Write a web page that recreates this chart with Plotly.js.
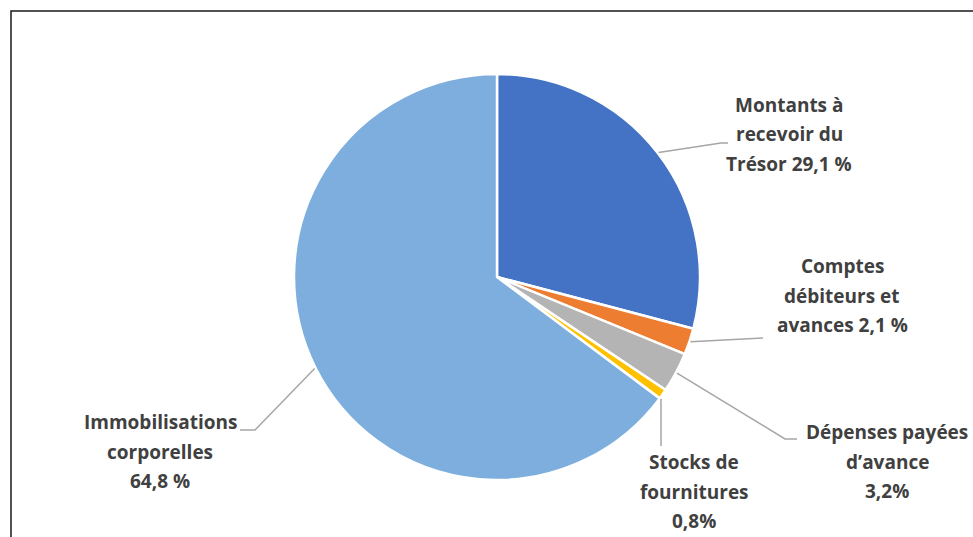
<!DOCTYPE html>
<html>
<head>
<meta charset="utf-8">
<script src="https://cdn.plot.ly/plotly-3.0.1.min.js"></script>
<style>html,body{margin:0;padding:0;background:#fff;}#chart{width:973px;height:537px;}</style>
</head>
<body>
<div id="chart"></div>
<script>
// ---- data ----
const categories = ["Montants à recevoir du Trésor", "Comptes débiteurs et avances", "Dépenses payées d’avance", "Stocks de fournitures", "Immobilisations corporelles"];
const values = [29.1, 2.1, 3.2, 0.8, 64.8];
const labelLines = [
  ["Montants à", "recevoir du", "Trésor 29,1 %"],
  ["Comptes", "débiteurs et", "avances 2,1 %"],
  ["Dépenses payées", "d’avance", "3,2%"],
  ["Stocks de", "fournitures", "0,8%"],
  ["Immobilisations", "corporelles", "64,8 %"]
];
const colors = ["#4472C4", "#ED7D31", "#B4B4B4", "#FFC000", "#7DAEDD"];

// ---- layout constants ----
const W = 973, H = 537;
const CX = 497, CY = 277, R = 203;
const labelPos = [[789, 105], [842, 266], [887, 432], [694, 462], [160, 422]];
const lineGap = 29.5;
const elbows = [
  [[721, 143], [728, 143]],
  [[763, 338]],
  [[785, 439], [797, 439]],
  [[661, 446]],
  [[255, 430], [240, 430]]
];

const px = x => x / W;
const py = y => 1 - y / H;

const total = values.reduce((a, b) => a + b, 0);
let cum = 0;
const shapes = [];
values.forEach((v, i) => {
  const mid = (cum + v / 2) / total * 2 * Math.PI;
  cum += v;
  const sx = CX + (R + 1) * Math.sin(mid);
  const sy = CY - (R + 1) * Math.cos(mid);
  let pts = [[sx, sy]].concat(elbows[i]);
  if (i === 3) pts = [[elbows[i][0][0], sy + 4], elbows[i][0]];
  let path = pts.map((p, k) => (k ? "L" : "M") + px(p[0]) + "," + py(p[1])).join(" ");
  shapes.push({type: "path", xref: "paper", yref: "paper", path: path,
    line: {color: "#A6A6A6", width: 1.5}});
});
shapes.push({type: "rect", xref: "paper", yref: "paper",
  x0: px(11), y0: -0.2, x1: 1.2, y1: py(11),
  line: {color: "#1a1a1a", width: 1.5}});

const annotations = [];
labelLines.forEach((lines, i) => {
  lines.forEach((t, k) => {
    annotations.push({
      xref: "paper", yref: "paper",
      x: px(labelPos[i][0]), y: py(labelPos[i][1] + k * lineGap),
      xanchor: "center", yanchor: "middle", showarrow: false,
      text: t,
      font: {family: "'Open Sans', Lato, sans-serif", size: 19, color: "#404040", weight: "bold"}
    });
  });
});

const trace = {
  type: "pie",
  labels: categories,
  values: values,
  sort: false,
  direction: "clockwise",
  rotation: 0,
  textinfo: "none",
  hoverinfo: "label+percent",
  marker: {colors: colors, line: {color: "#ffffff", width: 2.5}},
  domain: {x: [px(CX - R), px(CX + R)], y: [py(CY + R), py(CY - R)]},
  showlegend: false
};

Plotly.newPlot("chart", [trace], {
  width: W, height: H,
  margin: {l: 0, r: 0, t: 0, b: 0},
  paper_bgcolor: "#ffffff",
  showlegend: false,
  shapes: shapes,
  annotations: annotations
}, {displayModeBar: false, staticPlot: true});
</script>
</body>
</html>
